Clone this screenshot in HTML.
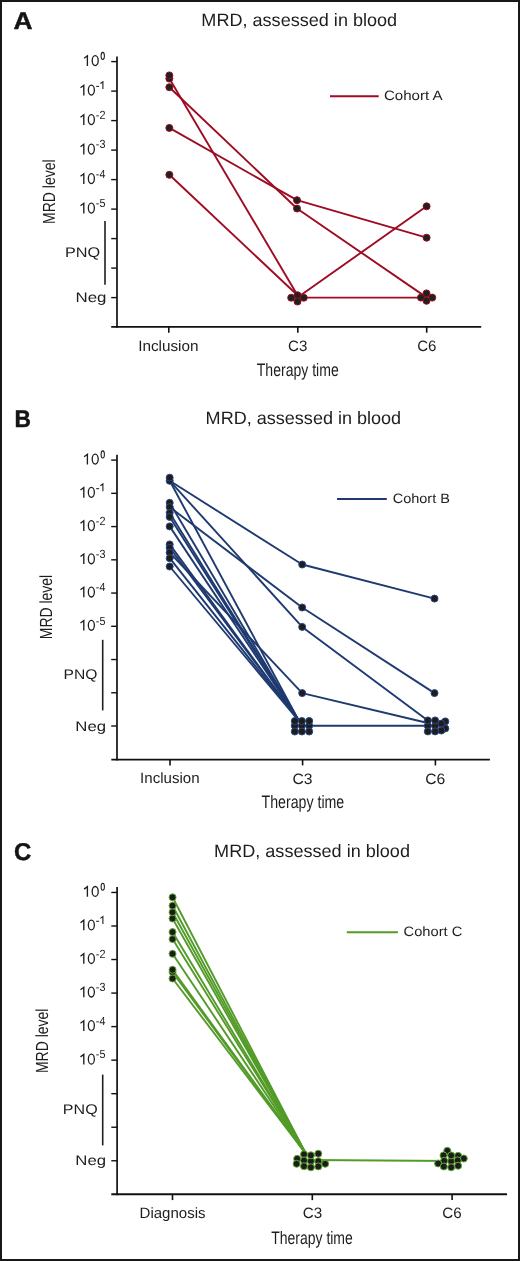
<!DOCTYPE html>
<html><head><meta charset="utf-8"><style>
html,body{margin:0;padding:0;background:#fff;}
body{width:520px;height:1261px;overflow:hidden;}
svg{display:block;will-change:transform;}
text{font-family:"Liberation Sans",sans-serif;text-rendering:geometricPrecision;}
</style></head><body>
<svg width="520" height="1261" viewBox="0 0 520 1261">
<rect x="0" y="0" width="520" height="1261" fill="#fff"/>
<line x1="117.00" y1="56.40" x2="117.00" y2="327.80" stroke="#111" stroke-width="1.7"/>
<line x1="111.20" y1="61.60" x2="117.00" y2="61.60" stroke="#111" stroke-width="1.4"/>
<line x1="111.20" y1="91.10" x2="117.00" y2="91.10" stroke="#111" stroke-width="1.4"/>
<line x1="111.20" y1="120.60" x2="117.00" y2="120.60" stroke="#111" stroke-width="1.4"/>
<line x1="111.20" y1="150.10" x2="117.00" y2="150.10" stroke="#111" stroke-width="1.4"/>
<line x1="111.20" y1="179.60" x2="117.00" y2="179.60" stroke="#111" stroke-width="1.4"/>
<line x1="111.20" y1="209.10" x2="117.00" y2="209.10" stroke="#111" stroke-width="1.4"/>
<line x1="111.20" y1="238.60" x2="117.00" y2="238.60" stroke="#111" stroke-width="1.4"/>
<line x1="111.20" y1="268.10" x2="117.00" y2="268.10" stroke="#111" stroke-width="1.4"/>
<line x1="111.20" y1="297.60" x2="117.00" y2="297.60" stroke="#111" stroke-width="1.4"/>
<line x1="111.20" y1="326.90" x2="481.20" y2="326.90" stroke="#111" stroke-width="1.9"/>
<line x1="168.80" y1="326.90" x2="168.80" y2="332.70" stroke="#111" stroke-width="1.6"/>
<line x1="297.80" y1="326.90" x2="297.80" y2="332.70" stroke="#111" stroke-width="1.6"/>
<line x1="426.70" y1="326.90" x2="426.70" y2="332.70" stroke="#111" stroke-width="1.6"/>
<line x1="105.00" y1="221.10" x2="105.00" y2="284.80" stroke="#1e1e1e" stroke-width="1.6"/>
<path d="M84.10 58.30 L87.40 55.80 L87.40 65.90" fill="none" stroke="#1d1d1d" stroke-width="1.35" stroke-linejoin="miter"/>
<ellipse cx="95.20" cy="60.60" rx="3.0" ry="4.95" fill="none" stroke="#1d1d1d" stroke-width="1.3"/>
<ellipse cx="102.75" cy="55.90" rx="1.65" ry="3.55" fill="none" stroke="#1d1d1d" stroke-width="1.05"/>
<path d="M80.50 87.80 L83.80 85.30 L83.80 95.40" fill="none" stroke="#1d1d1d" stroke-width="1.35" stroke-linejoin="miter"/>
<ellipse cx="91.35" cy="90.10" rx="3.0" ry="4.95" fill="none" stroke="#1d1d1d" stroke-width="1.3"/>
<path d="M96.2 86.40 H99.1" stroke="#1d1d1d" stroke-width="1.05" fill="none"/>
<path d="M100.4 83.50 L102.9 81.70 V89.10" stroke="#1d1d1d" stroke-width="1.1" fill="none"/>
<path d="M80.50 117.30 L83.80 114.80 L83.80 124.90" fill="none" stroke="#1d1d1d" stroke-width="1.35" stroke-linejoin="miter"/>
<ellipse cx="91.35" cy="119.60" rx="3.0" ry="4.95" fill="none" stroke="#1d1d1d" stroke-width="1.3"/>
<text x="95.84" y="118.90" font-size="11.8" fill="#1d1d1d" textLength="9.71" lengthAdjust="spacingAndGlyphs">-2</text>
<path d="M80.50 146.80 L83.80 144.30 L83.80 154.40" fill="none" stroke="#1d1d1d" stroke-width="1.35" stroke-linejoin="miter"/>
<ellipse cx="91.35" cy="149.10" rx="3.0" ry="4.95" fill="none" stroke="#1d1d1d" stroke-width="1.3"/>
<text x="95.84" y="148.40" font-size="11.8" fill="#1d1d1d" textLength="9.61" lengthAdjust="spacingAndGlyphs">-3</text>
<path d="M80.50 176.30 L83.80 173.80 L83.80 183.90" fill="none" stroke="#1d1d1d" stroke-width="1.35" stroke-linejoin="miter"/>
<ellipse cx="91.35" cy="178.60" rx="3.0" ry="4.95" fill="none" stroke="#1d1d1d" stroke-width="1.3"/>
<text x="95.85" y="177.90" font-size="11.8" fill="#1d1d1d" textLength="9.46" lengthAdjust="spacingAndGlyphs">-4</text>
<path d="M80.50 205.80 L83.80 203.30 L83.80 213.40" fill="none" stroke="#1d1d1d" stroke-width="1.35" stroke-linejoin="miter"/>
<ellipse cx="91.35" cy="208.10" rx="3.0" ry="4.95" fill="none" stroke="#1d1d1d" stroke-width="1.3"/>
<text x="95.84" y="207.40" font-size="11.8" fill="#1d1d1d" textLength="9.61" lengthAdjust="spacingAndGlyphs">-5</text>
<text x="13.55" y="29.30" font-size="24.2" font-weight="bold" stroke="#141414" stroke-width="0.45" fill="#141414" textLength="19.04" lengthAdjust="spacingAndGlyphs">A</text>
<text x="201.34" y="26.00" font-size="17.9" fill="#1d1d1d" textLength="195.83" lengthAdjust="spacingAndGlyphs">MRD, assessed in blood</text>
<line x1="330.00" y1="96.30" x2="378.70" y2="96.30" stroke="#9e0b22" stroke-width="2"/>
<text x="383.92" y="100.10" font-size="13.5" fill="#1d1d1d" textLength="58.72" lengthAdjust="spacingAndGlyphs">Cohort A</text>
<text x="138.17" y="351.10" font-size="15" fill="#1d1d1d" textLength="60.35" lengthAdjust="spacingAndGlyphs">Inclusion</text>
<text x="288.05" y="351.00" font-size="15" fill="#1d1d1d" textLength="19.28" lengthAdjust="spacingAndGlyphs">C3</text>
<text x="417.15" y="351.00" font-size="15" fill="#1d1d1d" textLength="19.18" lengthAdjust="spacingAndGlyphs">C6</text>
<text x="256.79" y="376.10" font-size="18" fill="#1d1d1d" textLength="81.93" lengthAdjust="spacingAndGlyphs">Therapy time</text>
<text transform="translate(55.20,222.80) rotate(-90)" x="-1.16" y="0" font-size="17.5" fill="#1d1d1d" textLength="64.52" lengthAdjust="spacingAndGlyphs">MRD level</text>
<text x="64.96" y="257.10" font-size="14" fill="#1d1d1d" textLength="35.23" lengthAdjust="spacingAndGlyphs">PNQ</text>
<text x="75.51" y="302.10" font-size="14" fill="#1d1d1d" textLength="30.95" lengthAdjust="spacingAndGlyphs">Neg</text>
<line x1="169.35" y1="78.60" x2="297.50" y2="295.20" stroke="#9e0b22" stroke-width="1.9"/>
<line x1="169.35" y1="87.20" x2="297.00" y2="208.50" stroke="#9e0b22" stroke-width="1.9"/>
<line x1="169.35" y1="127.90" x2="297.00" y2="200.20" stroke="#9e0b22" stroke-width="1.9"/>
<line x1="169.35" y1="174.80" x2="297.50" y2="295.20" stroke="#9e0b22" stroke-width="1.9"/>
<line x1="297.00" y1="200.20" x2="426.60" y2="237.70" stroke="#9e0b22" stroke-width="1.9"/>
<line x1="297.00" y1="208.50" x2="426.50" y2="297.40" stroke="#9e0b22" stroke-width="1.9"/>
<line x1="297.50" y1="297.50" x2="426.60" y2="206.30" stroke="#9e0b22" stroke-width="1.9"/>
<line x1="297.50" y1="297.60" x2="426.50" y2="297.60" stroke="#9e0b22" stroke-width="1.9"/>
<circle cx="169.35" cy="78.60" r="3.5" fill="#1c2220" stroke="#9e0b22" stroke-width="1.0"/>
<circle cx="169.35" cy="75.40" r="3.5" fill="#1c2220" stroke="#9e0b22" stroke-width="1.0"/>
<circle cx="169.35" cy="87.20" r="3.5" fill="#1c2220" stroke="#9e0b22" stroke-width="1.0"/>
<circle cx="169.35" cy="127.90" r="3.5" fill="#1c2220" stroke="#9e0b22" stroke-width="1.0"/>
<circle cx="169.35" cy="174.80" r="3.5" fill="#1c2220" stroke="#9e0b22" stroke-width="1.0"/>
<circle cx="297.00" cy="200.20" r="3.5" fill="#1c2220" stroke="#9e0b22" stroke-width="1.0"/>
<circle cx="297.00" cy="208.50" r="3.5" fill="#1c2220" stroke="#9e0b22" stroke-width="1.0"/>
<circle cx="297.50" cy="295.20" r="3.5" fill="#1c2220" stroke="#9e0b22" stroke-width="1.0"/>
<circle cx="291.20" cy="297.70" r="3.5" fill="#1c2220" stroke="#9e0b22" stroke-width="1.0"/>
<circle cx="303.80" cy="297.70" r="3.5" fill="#1c2220" stroke="#9e0b22" stroke-width="1.0"/>
<circle cx="297.50" cy="301.50" r="3.5" fill="#1c2220" stroke="#9e0b22" stroke-width="1.0"/>
<circle cx="426.60" cy="206.30" r="3.5" fill="#1c2220" stroke="#9e0b22" stroke-width="1.0"/>
<circle cx="426.60" cy="237.70" r="3.5" fill="#1c2220" stroke="#9e0b22" stroke-width="1.0"/>
<circle cx="426.50" cy="293.40" r="3.5" fill="#1c2220" stroke="#9e0b22" stroke-width="1.0"/>
<circle cx="421.00" cy="297.60" r="3.5" fill="#1c2220" stroke="#9e0b22" stroke-width="1.0"/>
<circle cx="432.20" cy="297.60" r="3.5" fill="#1c2220" stroke="#9e0b22" stroke-width="1.0"/>
<circle cx="426.50" cy="300.80" r="3.5" fill="#1c2220" stroke="#9e0b22" stroke-width="1.0"/>
<line x1="117.00" y1="454.80" x2="117.00" y2="760.50" stroke="#111" stroke-width="1.7"/>
<line x1="111.20" y1="460.10" x2="117.00" y2="460.10" stroke="#111" stroke-width="1.4"/>
<line x1="111.20" y1="493.34" x2="117.00" y2="493.34" stroke="#111" stroke-width="1.4"/>
<line x1="111.20" y1="526.58" x2="117.00" y2="526.58" stroke="#111" stroke-width="1.4"/>
<line x1="111.20" y1="559.82" x2="117.00" y2="559.82" stroke="#111" stroke-width="1.4"/>
<line x1="111.20" y1="593.06" x2="117.00" y2="593.06" stroke="#111" stroke-width="1.4"/>
<line x1="111.20" y1="626.30" x2="117.00" y2="626.30" stroke="#111" stroke-width="1.4"/>
<line x1="111.20" y1="659.54" x2="117.00" y2="659.54" stroke="#111" stroke-width="1.4"/>
<line x1="111.20" y1="692.78" x2="117.00" y2="692.78" stroke="#111" stroke-width="1.4"/>
<line x1="111.20" y1="726.02" x2="117.00" y2="726.02" stroke="#111" stroke-width="1.4"/>
<line x1="111.30" y1="759.60" x2="489.90" y2="759.60" stroke="#111" stroke-width="1.9"/>
<line x1="170.00" y1="759.60" x2="170.00" y2="765.40" stroke="#111" stroke-width="1.6"/>
<line x1="302.60" y1="759.60" x2="302.60" y2="765.40" stroke="#111" stroke-width="1.6"/>
<line x1="435.40" y1="759.60" x2="435.40" y2="765.40" stroke="#111" stroke-width="1.6"/>
<line x1="102.70" y1="639.80" x2="102.70" y2="710.40" stroke="#1e1e1e" stroke-width="1.6"/>
<path d="M84.10 456.80 L87.40 454.30 L87.40 464.40" fill="none" stroke="#1d1d1d" stroke-width="1.35" stroke-linejoin="miter"/>
<ellipse cx="95.20" cy="459.10" rx="3.0" ry="4.95" fill="none" stroke="#1d1d1d" stroke-width="1.3"/>
<ellipse cx="102.75" cy="454.40" rx="1.65" ry="3.55" fill="none" stroke="#1d1d1d" stroke-width="1.05"/>
<path d="M80.50 490.04 L83.80 487.54 L83.80 497.64" fill="none" stroke="#1d1d1d" stroke-width="1.35" stroke-linejoin="miter"/>
<ellipse cx="91.35" cy="492.34" rx="3.0" ry="4.95" fill="none" stroke="#1d1d1d" stroke-width="1.3"/>
<path d="M96.2 488.64 H99.1" stroke="#1d1d1d" stroke-width="1.05" fill="none"/>
<path d="M100.4 485.74 L102.9 483.94 V491.34" stroke="#1d1d1d" stroke-width="1.1" fill="none"/>
<path d="M80.50 523.28 L83.80 520.78 L83.80 530.88" fill="none" stroke="#1d1d1d" stroke-width="1.35" stroke-linejoin="miter"/>
<ellipse cx="91.35" cy="525.58" rx="3.0" ry="4.95" fill="none" stroke="#1d1d1d" stroke-width="1.3"/>
<text x="95.84" y="524.88" font-size="11.8" fill="#1d1d1d" textLength="9.71" lengthAdjust="spacingAndGlyphs">-2</text>
<path d="M80.50 556.52 L83.80 554.02 L83.80 564.12" fill="none" stroke="#1d1d1d" stroke-width="1.35" stroke-linejoin="miter"/>
<ellipse cx="91.35" cy="558.82" rx="3.0" ry="4.95" fill="none" stroke="#1d1d1d" stroke-width="1.3"/>
<text x="95.84" y="558.12" font-size="11.8" fill="#1d1d1d" textLength="9.61" lengthAdjust="spacingAndGlyphs">-3</text>
<path d="M80.50 589.76 L83.80 587.26 L83.80 597.36" fill="none" stroke="#1d1d1d" stroke-width="1.35" stroke-linejoin="miter"/>
<ellipse cx="91.35" cy="592.06" rx="3.0" ry="4.95" fill="none" stroke="#1d1d1d" stroke-width="1.3"/>
<text x="95.85" y="591.36" font-size="11.8" fill="#1d1d1d" textLength="9.46" lengthAdjust="spacingAndGlyphs">-4</text>
<path d="M80.50 623.00 L83.80 620.50 L83.80 630.60" fill="none" stroke="#1d1d1d" stroke-width="1.35" stroke-linejoin="miter"/>
<ellipse cx="91.35" cy="625.30" rx="3.0" ry="4.95" fill="none" stroke="#1d1d1d" stroke-width="1.3"/>
<text x="95.84" y="624.60" font-size="11.8" fill="#1d1d1d" textLength="9.61" lengthAdjust="spacingAndGlyphs">-5</text>
<text x="14.40" y="427.20" font-size="24.2" font-weight="bold" stroke="#141414" stroke-width="0.45" fill="#141414" textLength="16.41" lengthAdjust="spacingAndGlyphs">B</text>
<text x="205.64" y="423.80" font-size="17.9" fill="#1d1d1d" textLength="195.53" lengthAdjust="spacingAndGlyphs">MRD, assessed in blood</text>
<line x1="337.00" y1="499.00" x2="386.80" y2="499.00" stroke="#1e3a70" stroke-width="2"/>
<text x="392.65" y="502.50" font-size="13.5" fill="#1d1d1d" textLength="57.33" lengthAdjust="spacingAndGlyphs">Cohort B</text>
<text x="140.10" y="783.40" font-size="15" fill="#1d1d1d" textLength="59.41" lengthAdjust="spacingAndGlyphs">Inclusion</text>
<text x="292.52" y="783.70" font-size="15" fill="#1d1d1d" textLength="20.04" lengthAdjust="spacingAndGlyphs">C3</text>
<text x="425.22" y="783.70" font-size="15" fill="#1d1d1d" textLength="20.04" lengthAdjust="spacingAndGlyphs">C6</text>
<text x="261.59" y="808.20" font-size="18" fill="#1d1d1d" textLength="82.64" lengthAdjust="spacingAndGlyphs">Therapy time</text>
<text transform="translate(52.30,638.10) rotate(-90)" x="-1.16" y="0" font-size="17.5" fill="#1d1d1d" textLength="64.42" lengthAdjust="spacingAndGlyphs">MRD level</text>
<text x="63.52" y="679.30" font-size="14" fill="#1d1d1d" textLength="33.85" lengthAdjust="spacingAndGlyphs">PNQ</text>
<text x="75.32" y="730.80" font-size="14" fill="#1d1d1d" textLength="30.73" lengthAdjust="spacingAndGlyphs">Neg</text>
<line x1="169.70" y1="480.80" x2="302.20" y2="564.50" stroke="#1e3a70" stroke-width="1.9"/>
<line x1="169.70" y1="480.80" x2="302.20" y2="626.90" stroke="#1e3a70" stroke-width="1.9"/>
<line x1="169.70" y1="480.80" x2="299.00" y2="721.00" stroke="#1e3a70" stroke-width="1.9"/>
<line x1="169.70" y1="507.10" x2="302.20" y2="607.50" stroke="#1e3a70" stroke-width="1.9"/>
<line x1="169.70" y1="502.80" x2="299.00" y2="721.00" stroke="#1e3a70" stroke-width="1.9"/>
<line x1="169.70" y1="512.90" x2="299.00" y2="721.00" stroke="#1e3a70" stroke-width="1.9"/>
<line x1="169.70" y1="516.90" x2="299.00" y2="721.00" stroke="#1e3a70" stroke-width="1.9"/>
<line x1="169.70" y1="526.40" x2="299.00" y2="721.00" stroke="#1e3a70" stroke-width="1.9"/>
<line x1="169.70" y1="544.40" x2="299.00" y2="721.00" stroke="#1e3a70" stroke-width="1.9"/>
<line x1="169.70" y1="547.80" x2="299.00" y2="721.00" stroke="#1e3a70" stroke-width="1.9"/>
<line x1="169.70" y1="558.20" x2="299.00" y2="721.00" stroke="#1e3a70" stroke-width="1.9"/>
<line x1="169.70" y1="566.50" x2="299.00" y2="721.00" stroke="#1e3a70" stroke-width="1.9"/>
<line x1="169.70" y1="552.50" x2="302.20" y2="693.10" stroke="#1e3a70" stroke-width="1.9"/>
<line x1="302.20" y1="564.50" x2="434.50" y2="598.60" stroke="#1e3a70" stroke-width="1.9"/>
<line x1="302.20" y1="607.50" x2="434.50" y2="693.10" stroke="#1e3a70" stroke-width="1.9"/>
<line x1="302.20" y1="626.90" x2="427.80" y2="720.40" stroke="#1e3a70" stroke-width="1.9"/>
<line x1="302.20" y1="693.10" x2="427.80" y2="723.00" stroke="#1e3a70" stroke-width="1.9"/>
<line x1="301.90" y1="725.80" x2="435.10" y2="725.80" stroke="#1e3a70" stroke-width="1.9"/>
<circle cx="169.70" cy="480.80" r="3.5" fill="#1f1c19" stroke="#27488a" stroke-width="1.0"/>
<circle cx="169.70" cy="477.70" r="3.5" fill="#1f1c19" stroke="#27488a" stroke-width="1.0"/>
<circle cx="169.70" cy="502.80" r="3.5" fill="#1f1c19" stroke="#27488a" stroke-width="1.0"/>
<circle cx="169.70" cy="507.10" r="3.5" fill="#1f1c19" stroke="#27488a" stroke-width="1.0"/>
<circle cx="169.70" cy="512.90" r="3.5" fill="#1f1c19" stroke="#27488a" stroke-width="1.0"/>
<circle cx="169.70" cy="516.90" r="3.5" fill="#1f1c19" stroke="#27488a" stroke-width="1.0"/>
<circle cx="169.70" cy="526.40" r="3.5" fill="#1f1c19" stroke="#27488a" stroke-width="1.0"/>
<circle cx="169.70" cy="544.40" r="3.5" fill="#1f1c19" stroke="#27488a" stroke-width="1.0"/>
<circle cx="169.70" cy="547.80" r="3.5" fill="#1f1c19" stroke="#27488a" stroke-width="1.0"/>
<circle cx="169.70" cy="552.50" r="3.5" fill="#1f1c19" stroke="#27488a" stroke-width="1.0"/>
<circle cx="169.70" cy="558.20" r="3.5" fill="#1f1c19" stroke="#27488a" stroke-width="1.0"/>
<circle cx="169.70" cy="566.50" r="3.5" fill="#1f1c19" stroke="#27488a" stroke-width="1.0"/>
<circle cx="302.20" cy="564.50" r="3.5" fill="#1f1c19" stroke="#27488a" stroke-width="1.0"/>
<circle cx="302.20" cy="607.50" r="3.5" fill="#1f1c19" stroke="#27488a" stroke-width="1.0"/>
<circle cx="302.20" cy="626.90" r="3.5" fill="#1f1c19" stroke="#27488a" stroke-width="1.0"/>
<circle cx="302.20" cy="693.10" r="3.5" fill="#1f1c19" stroke="#27488a" stroke-width="1.0"/>
<circle cx="294.80" cy="725.80" r="3.5" fill="#1f1c19" stroke="#27488a" stroke-width="1.0"/>
<circle cx="301.90" cy="725.80" r="3.5" fill="#1f1c19" stroke="#27488a" stroke-width="1.0"/>
<circle cx="309.20" cy="725.80" r="3.5" fill="#1f1c19" stroke="#27488a" stroke-width="1.0"/>
<circle cx="294.80" cy="721.00" r="3.5" fill="#1f1c19" stroke="#27488a" stroke-width="1.0"/>
<circle cx="301.90" cy="721.00" r="3.5" fill="#1f1c19" stroke="#27488a" stroke-width="1.0"/>
<circle cx="309.20" cy="721.00" r="3.5" fill="#1f1c19" stroke="#27488a" stroke-width="1.0"/>
<circle cx="294.80" cy="731.50" r="3.5" fill="#1f1c19" stroke="#27488a" stroke-width="1.0"/>
<circle cx="301.90" cy="731.50" r="3.5" fill="#1f1c19" stroke="#27488a" stroke-width="1.0"/>
<circle cx="309.20" cy="731.50" r="3.5" fill="#1f1c19" stroke="#27488a" stroke-width="1.0"/>
<circle cx="434.50" cy="598.60" r="3.5" fill="#1f1c19" stroke="#27488a" stroke-width="1.0"/>
<circle cx="434.50" cy="693.10" r="3.5" fill="#1f1c19" stroke="#27488a" stroke-width="1.0"/>
<circle cx="445.30" cy="721.40" r="3.5" fill="#1f1c19" stroke="#27488a" stroke-width="1.0"/>
<circle cx="445.30" cy="728.40" r="3.5" fill="#1f1c19" stroke="#27488a" stroke-width="1.0"/>
<circle cx="427.80" cy="725.80" r="3.5" fill="#1f1c19" stroke="#27488a" stroke-width="1.0"/>
<circle cx="435.10" cy="725.80" r="3.5" fill="#1f1c19" stroke="#27488a" stroke-width="1.0"/>
<circle cx="441.40" cy="723.60" r="3.5" fill="#1f1c19" stroke="#27488a" stroke-width="1.0"/>
<circle cx="441.40" cy="730.50" r="3.5" fill="#1f1c19" stroke="#27488a" stroke-width="1.0"/>
<circle cx="427.80" cy="720.40" r="3.5" fill="#1f1c19" stroke="#27488a" stroke-width="1.0"/>
<circle cx="435.10" cy="720.40" r="3.5" fill="#1f1c19" stroke="#27488a" stroke-width="1.0"/>
<circle cx="427.80" cy="731.40" r="3.5" fill="#1f1c19" stroke="#27488a" stroke-width="1.0"/>
<circle cx="435.10" cy="731.40" r="3.5" fill="#1f1c19" stroke="#27488a" stroke-width="1.0"/>
<line x1="117.10" y1="887.10" x2="117.10" y2="1195.20" stroke="#111" stroke-width="1.7"/>
<line x1="111.30" y1="892.45" x2="117.10" y2="892.45" stroke="#111" stroke-width="1.4"/>
<line x1="111.30" y1="925.99" x2="117.10" y2="925.99" stroke="#111" stroke-width="1.4"/>
<line x1="111.30" y1="959.53" x2="117.10" y2="959.53" stroke="#111" stroke-width="1.4"/>
<line x1="111.30" y1="993.07" x2="117.10" y2="993.07" stroke="#111" stroke-width="1.4"/>
<line x1="111.30" y1="1026.61" x2="117.10" y2="1026.61" stroke="#111" stroke-width="1.4"/>
<line x1="111.30" y1="1060.15" x2="117.10" y2="1060.15" stroke="#111" stroke-width="1.4"/>
<line x1="111.30" y1="1093.69" x2="117.10" y2="1093.69" stroke="#111" stroke-width="1.4"/>
<line x1="111.30" y1="1127.23" x2="117.10" y2="1127.23" stroke="#111" stroke-width="1.4"/>
<line x1="111.30" y1="1160.77" x2="117.10" y2="1160.77" stroke="#111" stroke-width="1.4"/>
<line x1="111.30" y1="1194.30" x2="507.00" y2="1194.30" stroke="#111" stroke-width="1.9"/>
<line x1="172.50" y1="1194.30" x2="172.50" y2="1200.10" stroke="#111" stroke-width="1.6"/>
<line x1="312.30" y1="1194.30" x2="312.30" y2="1200.10" stroke="#111" stroke-width="1.6"/>
<line x1="452.10" y1="1194.30" x2="452.10" y2="1200.10" stroke="#111" stroke-width="1.6"/>
<line x1="102.70" y1="1074.60" x2="102.70" y2="1145.40" stroke="#1e1e1e" stroke-width="1.6"/>
<path d="M84.10 889.15 L87.40 886.65 L87.40 896.75" fill="none" stroke="#1d1d1d" stroke-width="1.35" stroke-linejoin="miter"/>
<ellipse cx="95.20" cy="891.45" rx="3.0" ry="4.95" fill="none" stroke="#1d1d1d" stroke-width="1.3"/>
<ellipse cx="102.75" cy="886.75" rx="1.65" ry="3.55" fill="none" stroke="#1d1d1d" stroke-width="1.05"/>
<path d="M80.50 922.69 L83.80 920.19 L83.80 930.29" fill="none" stroke="#1d1d1d" stroke-width="1.35" stroke-linejoin="miter"/>
<ellipse cx="91.35" cy="924.99" rx="3.0" ry="4.95" fill="none" stroke="#1d1d1d" stroke-width="1.3"/>
<path d="M96.2 921.29 H99.1" stroke="#1d1d1d" stroke-width="1.05" fill="none"/>
<path d="M100.4 918.39 L102.9 916.59 V923.99" stroke="#1d1d1d" stroke-width="1.1" fill="none"/>
<path d="M80.50 956.23 L83.80 953.73 L83.80 963.83" fill="none" stroke="#1d1d1d" stroke-width="1.35" stroke-linejoin="miter"/>
<ellipse cx="91.35" cy="958.53" rx="3.0" ry="4.95" fill="none" stroke="#1d1d1d" stroke-width="1.3"/>
<text x="95.84" y="957.83" font-size="11.8" fill="#1d1d1d" textLength="9.71" lengthAdjust="spacingAndGlyphs">-2</text>
<path d="M80.50 989.77 L83.80 987.27 L83.80 997.37" fill="none" stroke="#1d1d1d" stroke-width="1.35" stroke-linejoin="miter"/>
<ellipse cx="91.35" cy="992.07" rx="3.0" ry="4.95" fill="none" stroke="#1d1d1d" stroke-width="1.3"/>
<text x="95.84" y="991.37" font-size="11.8" fill="#1d1d1d" textLength="9.61" lengthAdjust="spacingAndGlyphs">-3</text>
<path d="M80.50 1023.31 L83.80 1020.81 L83.80 1030.91" fill="none" stroke="#1d1d1d" stroke-width="1.35" stroke-linejoin="miter"/>
<ellipse cx="91.35" cy="1025.61" rx="3.0" ry="4.95" fill="none" stroke="#1d1d1d" stroke-width="1.3"/>
<text x="95.85" y="1024.91" font-size="11.8" fill="#1d1d1d" textLength="9.46" lengthAdjust="spacingAndGlyphs">-4</text>
<path d="M80.50 1056.85 L83.80 1054.35 L83.80 1064.45" fill="none" stroke="#1d1d1d" stroke-width="1.35" stroke-linejoin="miter"/>
<ellipse cx="91.35" cy="1059.15" rx="3.0" ry="4.95" fill="none" stroke="#1d1d1d" stroke-width="1.3"/>
<text x="95.84" y="1058.45" font-size="11.8" fill="#1d1d1d" textLength="9.61" lengthAdjust="spacingAndGlyphs">-5</text>
<text x="14.01" y="860.30" font-size="24.2" font-weight="bold" stroke="#141414" stroke-width="0.45" fill="#141414" textLength="17.26" lengthAdjust="spacingAndGlyphs">C</text>
<text x="214.14" y="856.60" font-size="17.9" fill="#1d1d1d" textLength="195.83" lengthAdjust="spacingAndGlyphs">MRD, assessed in blood</text>
<line x1="346.80" y1="932.30" x2="397.90" y2="932.30" stroke="#529b28" stroke-width="2"/>
<text x="403.54" y="936.20" font-size="13.5" fill="#1d1d1d" textLength="58.78" lengthAdjust="spacingAndGlyphs">Cohort C</text>
<text x="139.55" y="1218.40" font-size="15" fill="#1d1d1d" textLength="66.02" lengthAdjust="spacingAndGlyphs">Diagnosis</text>
<text x="302.74" y="1218.10" font-size="15" fill="#1d1d1d" textLength="19.39" lengthAdjust="spacingAndGlyphs">C3</text>
<text x="442.24" y="1218.10" font-size="15" fill="#1d1d1d" textLength="19.39" lengthAdjust="spacingAndGlyphs">C6</text>
<text x="271.19" y="1243.50" font-size="18" fill="#1d1d1d" textLength="81.62" lengthAdjust="spacingAndGlyphs">Therapy time</text>
<text transform="translate(47.90,1071.90) rotate(-90)" x="-1.16" y="0" font-size="17.5" fill="#1d1d1d" textLength="64.42" lengthAdjust="spacingAndGlyphs">MRD level</text>
<text x="62.88" y="1114.00" font-size="14" fill="#1d1d1d" textLength="34.81" lengthAdjust="spacingAndGlyphs">PNQ</text>
<text x="75.32" y="1165.40" font-size="14" fill="#1d1d1d" textLength="30.73" lengthAdjust="spacingAndGlyphs">Neg</text>
<line x1="172.55" y1="897.30" x2="306.00" y2="1154.00" stroke="#529b28" stroke-width="1.9"/>
<line x1="172.55" y1="905.70" x2="306.00" y2="1154.00" stroke="#529b28" stroke-width="1.9"/>
<line x1="172.55" y1="912.20" x2="306.00" y2="1154.00" stroke="#529b28" stroke-width="1.9"/>
<line x1="172.55" y1="918.50" x2="306.00" y2="1154.00" stroke="#529b28" stroke-width="1.9"/>
<line x1="172.55" y1="932.10" x2="306.00" y2="1154.00" stroke="#529b28" stroke-width="1.9"/>
<line x1="172.55" y1="939.10" x2="306.00" y2="1154.00" stroke="#529b28" stroke-width="1.9"/>
<line x1="172.55" y1="953.80" x2="306.00" y2="1154.00" stroke="#529b28" stroke-width="1.9"/>
<line x1="172.55" y1="969.80" x2="306.00" y2="1154.00" stroke="#529b28" stroke-width="1.9"/>
<line x1="172.55" y1="972.10" x2="306.00" y2="1154.00" stroke="#529b28" stroke-width="1.9"/>
<line x1="172.55" y1="978.50" x2="306.00" y2="1154.00" stroke="#529b28" stroke-width="1.9"/>
<line x1="311.00" y1="1160.00" x2="451.00" y2="1161.00" stroke="#529b28" stroke-width="1.9"/>
<circle cx="172.55" cy="972.10" r="3.5" fill="#1e1b1d" stroke="#5eac34" stroke-width="1.0"/>
<circle cx="172.55" cy="969.80" r="3.5" fill="#1e1b1d" stroke="#5eac34" stroke-width="1.0"/>
<circle cx="172.55" cy="978.50" r="3.5" fill="#1e1b1d" stroke="#5eac34" stroke-width="1.0"/>
<circle cx="172.55" cy="953.80" r="3.5" fill="#1e1b1d" stroke="#5eac34" stroke-width="1.0"/>
<circle cx="172.55" cy="939.10" r="3.5" fill="#1e1b1d" stroke="#5eac34" stroke-width="1.0"/>
<circle cx="172.55" cy="932.10" r="3.5" fill="#1e1b1d" stroke="#5eac34" stroke-width="1.0"/>
<circle cx="172.55" cy="918.50" r="3.5" fill="#1e1b1d" stroke="#5eac34" stroke-width="1.0"/>
<circle cx="172.55" cy="912.20" r="3.5" fill="#1e1b1d" stroke="#5eac34" stroke-width="1.0"/>
<circle cx="172.55" cy="905.70" r="3.5" fill="#1e1b1d" stroke="#5eac34" stroke-width="1.0"/>
<circle cx="172.55" cy="897.30" r="3.5" fill="#1e1b1d" stroke="#5eac34" stroke-width="1.0"/>
<circle cx="310.90" cy="1161.20" r="3.5" fill="#1e1b1d" stroke="#5eac34" stroke-width="1.0"/>
<circle cx="304.00" cy="1154.30" r="3.5" fill="#1e1b1d" stroke="#5eac34" stroke-width="1.0"/>
<circle cx="310.90" cy="1155.30" r="3.5" fill="#1e1b1d" stroke="#5eac34" stroke-width="1.0"/>
<circle cx="318.30" cy="1153.70" r="3.5" fill="#1e1b1d" stroke="#5eac34" stroke-width="1.0"/>
<circle cx="297.20" cy="1158.80" r="3.5" fill="#1e1b1d" stroke="#5eac34" stroke-width="1.0"/>
<circle cx="304.00" cy="1160.40" r="3.5" fill="#1e1b1d" stroke="#5eac34" stroke-width="1.0"/>
<circle cx="318.30" cy="1161.20" r="3.5" fill="#1e1b1d" stroke="#5eac34" stroke-width="1.0"/>
<circle cx="296.60" cy="1163.80" r="3.5" fill="#1e1b1d" stroke="#5eac34" stroke-width="1.0"/>
<circle cx="304.00" cy="1166.20" r="3.5" fill="#1e1b1d" stroke="#5eac34" stroke-width="1.0"/>
<circle cx="310.90" cy="1167.30" r="3.5" fill="#1e1b1d" stroke="#5eac34" stroke-width="1.0"/>
<circle cx="318.30" cy="1166.40" r="3.5" fill="#1e1b1d" stroke="#5eac34" stroke-width="1.0"/>
<circle cx="325.20" cy="1163.80" r="3.5" fill="#1e1b1d" stroke="#5eac34" stroke-width="1.0"/>
<circle cx="451.20" cy="1161.20" r="3.5" fill="#1e1b1d" stroke="#5eac34" stroke-width="1.0"/>
<circle cx="447.30" cy="1150.80" r="3.5" fill="#1e1b1d" stroke="#5eac34" stroke-width="1.0"/>
<circle cx="443.50" cy="1155.40" r="3.5" fill="#1e1b1d" stroke="#5eac34" stroke-width="1.0"/>
<circle cx="451.20" cy="1155.40" r="3.5" fill="#1e1b1d" stroke="#5eac34" stroke-width="1.0"/>
<circle cx="458.10" cy="1155.80" r="3.5" fill="#1e1b1d" stroke="#5eac34" stroke-width="1.0"/>
<circle cx="463.80" cy="1158.50" r="3.5" fill="#1e1b1d" stroke="#5eac34" stroke-width="1.0"/>
<circle cx="444.20" cy="1160.80" r="3.5" fill="#1e1b1d" stroke="#5eac34" stroke-width="1.0"/>
<circle cx="457.70" cy="1160.40" r="3.5" fill="#1e1b1d" stroke="#5eac34" stroke-width="1.0"/>
<circle cx="438.10" cy="1163.50" r="3.5" fill="#1e1b1d" stroke="#5eac34" stroke-width="1.0"/>
<circle cx="443.80" cy="1166.50" r="3.5" fill="#1e1b1d" stroke="#5eac34" stroke-width="1.0"/>
<circle cx="451.20" cy="1167.30" r="3.5" fill="#1e1b1d" stroke="#5eac34" stroke-width="1.0"/>
<circle cx="458.10" cy="1165.80" r="3.5" fill="#1e1b1d" stroke="#5eac34" stroke-width="1.0"/>
<rect x="1" y="1" width="518" height="1259" fill="none" stroke="#181818" stroke-width="2"/>
</svg>
</body></html>
